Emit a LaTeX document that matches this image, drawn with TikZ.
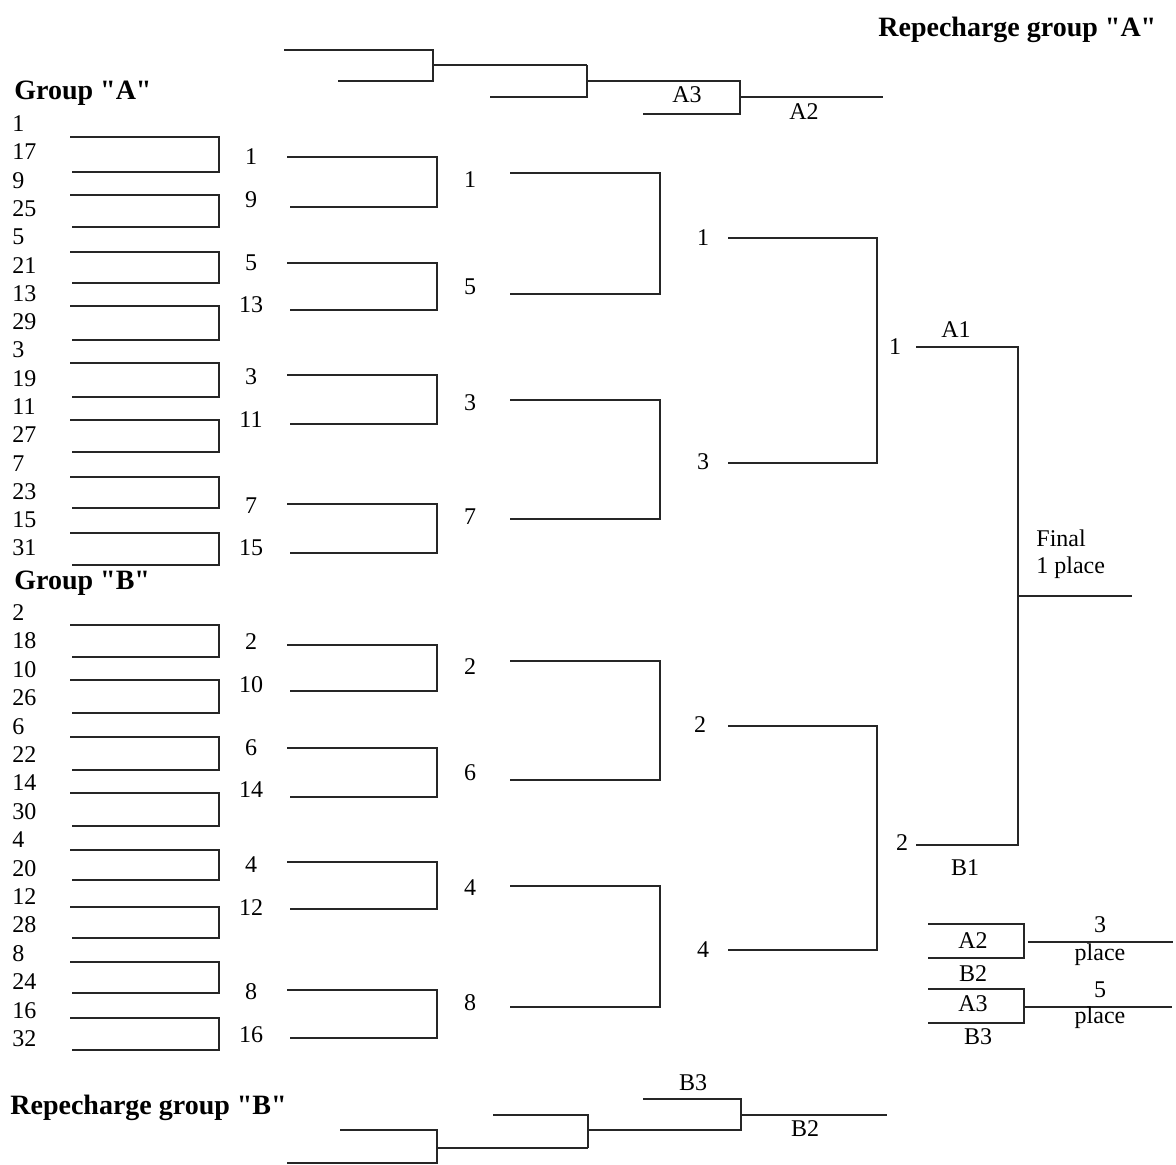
\documentclass[tikz,border=0pt]{standalone}
\usepackage{fontspec}
\newfontfamily\drawfont{Liberation Serif}
\usetikzlibrary{positioning}

\begin{document}
\begin{tikzpicture}[
  x=0.5pt, y=-0.5pt,
  bracket/.style={line width=1pt, black!85},
  seed/.style={font=\drawfont\fontsize{12}{14}\selectfont, anchor=west, inner sep=0pt},
  num/.style={font=\drawfont\fontsize{12}{14}\selectfont, inner sep=0pt},
  heading/.style={font=\drawfont\bfseries\fontsize{14}{16}\selectfont, anchor=west, inner sep=0pt},
]
  \useasboundingbox (0,0) rectangle (1176,1165);

  % Titles
  \node[heading] (repA) at (878,30) {Repecharge group "A"};
  \node[heading] (grpA) at (14,93) {Group "A"};
  \node[heading] (grpB) at (14,583) {Group "B"};
  \node[heading] (repB) at (10,1108) {Repecharge group "B"};

  % Group A seeds
  \node[seed] (a1) at (12,124) {1};
  \node[seed] (a17) at (12,152) {17};
  \node[seed] (a9) at (12,181) {9};
  \node[seed] (a25) at (12,209) {25};
  \node[seed] (a5) at (12,237) {5};
  \node[seed] (a21) at (12,266) {21};
  \node[seed] (a13) at (12,294) {13};
  \node[seed] (a29) at (12,322) {29};
  \node[seed] (a3) at (12,350) {3};
  \node[seed] (a19) at (12,379) {19};
  \node[seed] (a11) at (12,407) {11};
  \node[seed] (a27) at (12,435) {27};
  \node[seed] (a7) at (12,464) {7};
  \node[seed] (a23) at (12,492) {23};
  \node[seed] (a15) at (12,520) {15};
  \node[seed] (a31) at (12,548) {31};

  % Group B seeds
  \node[seed] (b2) at (12,613) {2};
  \node[seed] (b18) at (12,641) {18};
  \node[seed] (b10) at (12,670) {10};
  \node[seed] (b26) at (12,698) {26};
  \node[seed] (b6) at (12,727) {6};
  \node[seed] (b22) at (12,755) {22};
  \node[seed] (b14) at (12,783) {14};
  \node[seed] (b30) at (12,812) {30};
  \node[seed] (b4) at (12,840) {4};
  \node[seed] (b20) at (12,869) {20};
  \node[seed] (b12) at (12,897) {12};
  \node[seed] (b28) at (12,925) {28};
  \node[seed] (b8) at (12,954) {8};
  \node[seed] (b24) at (12,982) {24};
  \node[seed] (b16) at (12,1011) {16};
  \node[seed] (b32) at (12,1039) {32};

  % First round
  \draw[bracket] (70,137) -- (219,137) -- (219,172) -- (72,172);
  \draw[bracket] (70,195) -- (219,195) -- (219,227) -- (72,227);
  \draw[bracket] (70,252) -- (219,252) -- (219,283) -- (72,283);
  \draw[bracket] (70,306) -- (219,306) -- (219,340) -- (72,340);
  \draw[bracket] (70,363) -- (219,363) -- (219,397) -- (72,397);
  \draw[bracket] (70,420) -- (219,420) -- (219,452) -- (72,452);
  \draw[bracket] (70,477) -- (219,477) -- (219,508) -- (72,508);
  \draw[bracket] (70,533) -- (219,533) -- (219,565) -- (72,565);
  \draw[bracket] (70,625) -- (219,625) -- (219,657) -- (72,657);
  \draw[bracket] (70,680) -- (219,680) -- (219,713) -- (72,713);
  \draw[bracket] (70,737) -- (219,737) -- (219,770) -- (72,770);
  \draw[bracket] (70,793) -- (219,793) -- (219,826) -- (72,826);
  \draw[bracket] (70,850) -- (219,850) -- (219,880) -- (72,880);
  \draw[bracket] (70,907) -- (219,907) -- (219,938) -- (72,938);
  \draw[bracket] (70,962) -- (219,962) -- (219,993) -- (72,993);
  \draw[bracket] (70,1018) -- (219,1018) -- (219,1050) -- (72,1050);

  % Second round
  \node[num] (r2n1) at (251,157) {1};
  \node[num] (r2n9) at (251,200) {9};
  \node[num] (r2n5) at (251,263) {5};
  \node[num] (r2n13) at (251,305) {13};
  \node[num] (r2n3) at (251,377) {3};
  \node[num] (r2n11) at (251,420) {11};
  \node[num] (r2n7) at (251,506) {7};
  \node[num] (r2n15) at (251,548) {15};
  \node[num] (r2n2) at (251,642) {2};
  \node[num] (r2n10) at (251,685) {10};
  \node[num] (r2n6) at (251,748) {6};
  \node[num] (r2n14) at (251,790) {14};
  \node[num] (r2n4) at (251,865) {4};
  \node[num] (r2n12) at (251,908) {12};
  \node[num] (r2n8) at (251,992) {8};
  \node[num] (r2n16) at (251,1035) {16};
  \draw[bracket] (287,157) -- (437,157) -- (437,207) -- (290,207);
  \draw[bracket] (287,263) -- (437,263) -- (437,310) -- (290,310);
  \draw[bracket] (287,375) -- (437,375) -- (437,424) -- (290,424);
  \draw[bracket] (287,504) -- (437,504) -- (437,553) -- (290,553);
  \draw[bracket] (287,645) -- (437,645) -- (437,691) -- (290,691);
  \draw[bracket] (287,748) -- (437,748) -- (437,797) -- (290,797);
  \draw[bracket] (287,862) -- (437,862) -- (437,909) -- (290,909);
  \draw[bracket] (287,990) -- (437,990) -- (437,1038) -- (290,1038);

  % Third round
  \node[num] (r3n1) at (470,180) {1};
  \node[num] (r3n5) at (470,287) {5};
  \node[num] (r3n3) at (470,403) {3};
  \node[num] (r3n7) at (470,517) {7};
  \node[num] (r3n2) at (470,667) {2};
  \node[num] (r3n6) at (470,773) {6};
  \node[num] (r3n4) at (470,888) {4};
  \node[num] (r3n8) at (470,1003) {8};
  \draw[bracket] (510,173) -- (660,173) -- (660,294) -- (510,294);
  \draw[bracket] (510,400) -- (660,400) -- (660,519) -- (510,519);
  \draw[bracket] (510,661) -- (660,661) -- (660,780) -- (510,780);
  \draw[bracket] (510,886) -- (660,886) -- (660,1007) -- (510,1007);

  % Fourth round
  \node[num] (r4n1) at (703,238) {1};
  \node[num] (r4n3) at (703,462) {3};
  \node[num] (r4n2) at (700,725) {2};
  \node[num] (r4n4) at (703,950) {4};
  \draw[bracket] (728,238) -- (877,238) -- (877,463) -- (728,463);
  \draw[bracket] (728,726) -- (877,726) -- (877,950) -- (728,950);

  % Final
  \node[num] (semi1) at (895,347) {1};
  \node[num] (semi2) at (902,843) {2};
  \node[num] (wA1) at (956,330) {A1};
  \node[num] (wB1) at (965,868) {B1};
  \draw[bracket] (916,347) -- (1018,347) -- (1018,845) -- (916,845);
  \draw[bracket] (1018,596) -- (1132,596);
  \node[seed] (final) at (1036,538) {Final};
  \node[seed] (place1) at (1036,568) {1 place};

  % 3 and 5 place
  \draw[bracket] (928,924) -- (1024,924) -- (1024,958) -- (928,958);
  \draw[bracket] (1028,942) -- (1173,942);
  \node[num] (pA2) at (973,941) {A2};
  \node[num] (pB2) at (973,974) {B2};
  \node[num] (p3) at (1100,925) {3};
  \node[num] (p3txt) at (1100,955) {place};
  \draw[bracket] (928,989) -- (1024,989) -- (1024,1023) -- (928,1023);
  \draw[bracket] (1024,1007) -- (1172,1007);
  \node[num] (pA3) at (973,1004) {A3};
  \node[num] (pB3) at (978,1037) {B3};
  \node[num] (p5) at (1100,990) {5};
  \node[num] (p5txt) at (1100,1018) {place};

  % Repecharge group A
  \draw[bracket] (284,50) -- (433,50) -- (433,81) -- (338,81);
  \draw[bracket] (433,65) -- (587,65);
  \draw[bracket] (490,97) -- (587,97) -- (587,65);
  \draw[bracket] (587,81) -- (740,81) -- (740,114) -- (643,114);
  \draw[bracket] (740,97) -- (883,97);
  \node[num] (rA3) at (687,95) {A3};
  \node[num] (rA2) at (804,112) {A2};

  % Repecharge group B
  \draw[bracket] (340,1130) -- (437,1130) -- (437,1163) -- (287,1163);
  \draw[bracket] (437,1148) -- (588,1148);
  \draw[bracket] (493,1115) -- (588,1115) -- (588,1148);
  \draw[bracket] (588,1130) -- (741,1130) -- (741,1099) -- (643,1099);
  \draw[bracket] (741,1115) -- (887,1115);
  \node[num] (rB3) at (693,1083) {B3};
  \node[num] (rB2) at (805,1129) {B2};

\end{tikzpicture}
\end{document}
